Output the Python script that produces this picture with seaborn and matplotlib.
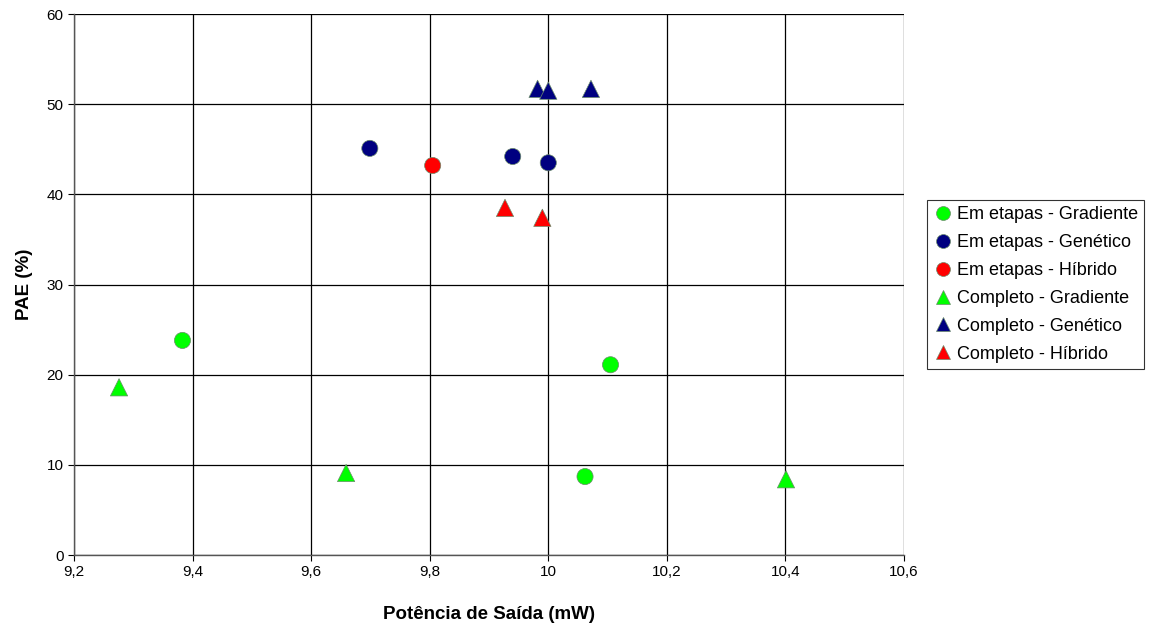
"""Scatter of PAE vs output power for the optimization strategies."""

import matplotlib

matplotlib.use("Agg")
import matplotlib.pyplot as plt
import matplotlib.ticker as mticker
import pandas as pd
import seaborn as sns

SERIES = [
    "Em etapas - Gradiente",
    "Em etapas - Genético",
    "Em etapas - Híbrido",
    "Completo - Gradiente",
    "Completo - Genético",
    "Completo - Híbrido",
]
COLORS = ["#00FF00", "#000080", "#FF0000", "#00FF00", "#000080", "#FF0000"]
MARKERS = ["o", "o", "o", "^", "^", "^"]
SIZES = [135, 135, 135, 155, 155, 155]

etapas_gradiente_x = [9.383, 10.105, 10.062]
etapas_gradiente_y = [23.8, 21.1, 8.7]
etapas_genetico_x = [9.699, 9.94, 10.0]
etapas_genetico_y = [45.1, 44.2, 43.5]
etapas_hibrido_x = [9.805]
etapas_hibrido_y = [43.2]
completo_gradiente_x = [9.276, 9.659, 10.401]
completo_gradiente_y = [18.6, 9.1, 8.4]
completo_genetico_x = [9.982, 10.0, 10.072]
completo_genetico_y = [51.7, 51.5, 51.7]
completo_hibrido_x = [9.927, 9.99]
completo_hibrido_y = [38.5, 37.4]

xs = [etapas_gradiente_x, etapas_genetico_x, etapas_hibrido_x,
      completo_gradiente_x, completo_genetico_x, completo_hibrido_x]
ys = [etapas_gradiente_y, etapas_genetico_y, etapas_hibrido_y,
      completo_gradiente_y, completo_genetico_y, completo_hibrido_y]

frames = [pd.DataFrame({"x": x, "y": y, "serie": name})
          for name, x, y in zip(SERIES, xs, ys)]
data = pd.concat(frames, ignore_index=True)

sns.set_theme(style="white")
plt.rcParams["font.family"] = ["Liberation Sans", "DejaVu Sans"]
plt.rcParams["text.color"] = "black"
plt.rcParams["axes.labelcolor"] = "black"

fig = plt.figure(figsize=(11.56, 6.26), dpi=100)
ax = fig.add_axes([0.064, 0.1134, 0.718, 0.8642])

sns.scatterplot(
    data=data, x="x", y="y", hue="serie", style="serie", size="serie",
    hue_order=SERIES, style_order=SERIES, size_order=SERIES,
    palette=dict(zip(SERIES, COLORS)), markers=dict(zip(SERIES, MARKERS)),
    sizes=dict(zip(SERIES, SIZES)),
    edgecolor="#6a8a6a", linewidth=0.5, ax=ax, zorder=3,
)

ax.set_xlim(9.2, 10.6)
ax.set_ylim(0, 60)
ax.xaxis.set_major_locator(mticker.MultipleLocator(0.2))
ax.yaxis.set_major_locator(mticker.MultipleLocator(10))
ax.xaxis.set_major_formatter(mticker.FuncFormatter(
    lambda v, _: f"{v:.1f}".replace(".", ",").replace(",0", "")))
ax.grid(True, color="black", linewidth=0.9)
ax.set_axisbelow(True)
for side in ("top", "right"):
    ax.spines[side].set_visible(False)
for side in ("left", "bottom"):
    ax.spines[side].set_color("#555555")
    ax.spines[side].set_linewidth(1.0)
ax.tick_params(axis="both", direction="out", length=4, width=0.8,
               colors="black", labelsize=11, bottom=True, left=True)
ax.set_xlabel("Potência de Saída (mW)", fontsize=13.5, fontweight="bold",
              labelpad=19)
ax.set_ylabel("PAE (%)", fontsize=13.5, fontweight="bold", labelpad=10)

handles, labels = ax.get_legend_handles_labels()
for h in handles:
    h.set_markeredgecolor("#6a8a6a")
    h.set_markersize(10)
leg = ax.legend(handles, labels, loc="center left",
                bbox_to_anchor=(1.028, 0.50), frameon=True, fontsize=13,
                fancybox=False, borderpad=0.35, handletextpad=0.2,
                labelspacing=0.6, handlelength=1.1, borderaxespad=0)
leg.get_frame().set_edgecolor("black")
leg.get_frame().set_linewidth(0.8)

fig.savefig("out.png", dpi=100)
